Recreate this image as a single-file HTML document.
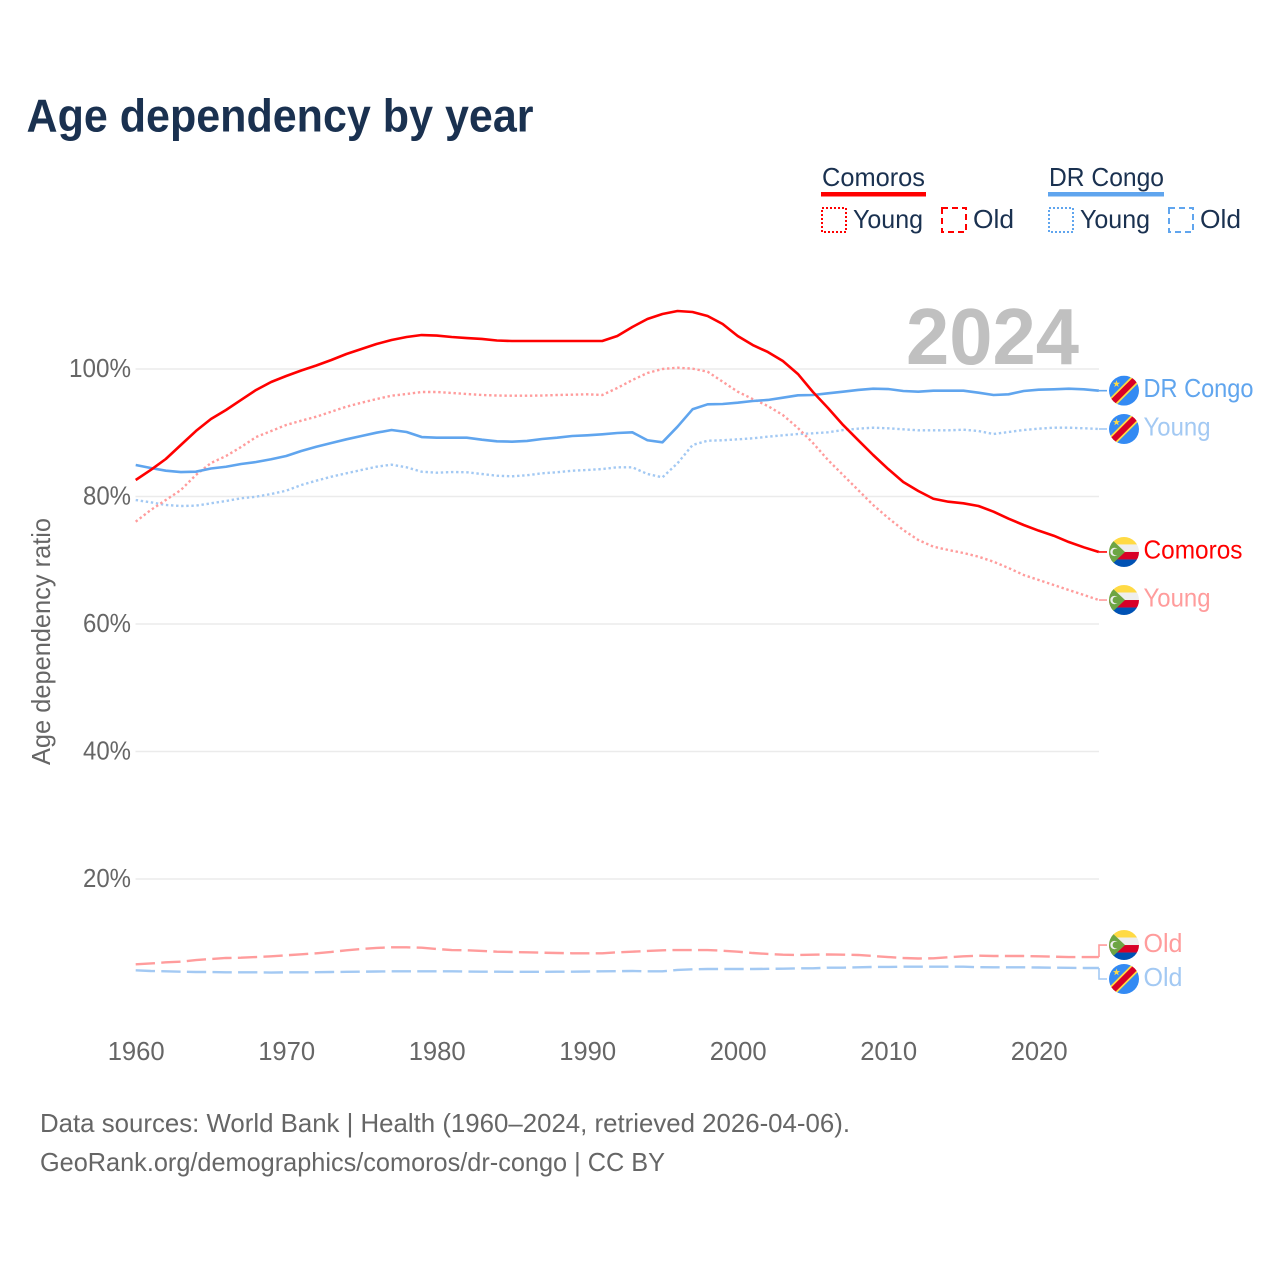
<!DOCTYPE html>
<html lang="en">
<head>
<meta charset="utf-8">
<title>Age dependency by year</title>
<style>
html,body{margin:0;padding:0;background:#fff;}
svg{display:block;font-family:"Liberation Sans",sans-serif;}
</style>
</head>
<body>
<svg id="chart" width="1280" height="1280" viewBox="0 0 1280 1280" xmlns="http://www.w3.org/2000/svg">
  <defs>
    <clipPath id="flag-clip"><circle cx="0" cy="0" r="15"/></clipPath>
    <g id="flag-cd" clip-path="url(#flag-clip)">
      <rect x="-15" y="-15" width="30" height="30" fill="#338af3"/>
      <line x1="-17" y1="17" x2="17" y2="-17" stroke="#ffda44" stroke-width="9.5"/>
      <line x1="-17" y1="17" x2="17" y2="-17" stroke="#d80027" stroke-width="6"/>
      <polygon points="-7.5,-10.5 -6.6,-7.9 -3.9,-7.9 -6.1,-6.3 -5.3,-3.7 -7.5,-5.3 -9.7,-3.7 -8.9,-6.3 -11.1,-7.9 -8.4,-7.9" fill="#ffda44"/>
    </g>
    <g id="flag-km" clip-path="url(#flag-clip)">
      <rect x="-15" y="-15" width="30" height="7.5" fill="#ffda44"/>
      <rect x="-15" y="-7.5" width="30" height="7.5" fill="#eeeeee"/>
      <rect x="-15" y="0" width="30" height="7.5" fill="#d80027"/>
      <rect x="-15" y="7.5" width="30" height="7.5" fill="#0052b4"/>
      <polygon points="-15,-15 1,0 -15,15" fill="#6da544"/>
      <circle cx="-9.5" cy="0" r="4.2" fill="#eeeeee"/>
      <circle cx="-8" cy="0" r="3.4" fill="#6da544"/>
    </g>
  </defs>

  <rect x="0" y="0" width="1280" height="1280" fill="#ffffff"/>

  <text x="26.5" y="131.5" font-size="46" font-weight="700" fill="#1a3150" textLength="507" lengthAdjust="spacingAndGlyphs">Age dependency by year</text>

  <g>
    <text x="822" y="186" font-size="26" fill="#1a3150" textLength="103" lengthAdjust="spacingAndGlyphs">Comoros</text>
    <rect x="821" y="192" width="105" height="4.5" fill="#ff0000"/>
    <rect x="822" y="208" width="24" height="24" fill="none" stroke="#ff0000" stroke-width="2" stroke-dasharray="2 2"/>
    <text x="853" y="228" font-size="26" fill="#1a3150" textLength="70" lengthAdjust="spacingAndGlyphs">Young</text>
    <rect x="942" y="208" width="24" height="24" fill="none" stroke="#ff0000" stroke-width="2" stroke-dasharray="6 4"/>
    <text x="973" y="228" font-size="26" fill="#1a3150" textLength="41" lengthAdjust="spacingAndGlyphs">Old</text>

    <text x="1049" y="186" font-size="26" fill="#1a3150" textLength="115" lengthAdjust="spacingAndGlyphs">DR Congo</text>
    <rect x="1048" y="192" width="116" height="4.5" fill="#60a5ee"/>
    <rect x="1049" y="208" width="24" height="24" fill="none" stroke="#60a5ee" stroke-width="2" stroke-dasharray="2 2"/>
    <text x="1080" y="228" font-size="26" fill="#1a3150" textLength="70" lengthAdjust="spacingAndGlyphs">Young</text>
    <rect x="1169" y="208" width="24" height="24" fill="none" stroke="#60a5ee" stroke-width="2" stroke-dasharray="6 4"/>
    <text x="1200" y="228" font-size="26" fill="#1a3150" textLength="41" lengthAdjust="spacingAndGlyphs">Old</text>
  </g>

  <g id="grid"></g>
  <g id="y-ticks"></g>
  <g id="x-ticks"></g>

  <text x="0" y="0" transform="translate(50,765) rotate(-90)" font-size="26" fill="#666666" textLength="247" lengthAdjust="spacingAndGlyphs">Age dependency ratio</text>

  <text x="906" y="364" font-size="80" font-weight="700" fill="#c0c0c0" textLength="173" lengthAdjust="spacingAndGlyphs">2024</text>

  <g id="series"></g>
  <g id="end-labels"></g>

  <text x="40" y="1132" font-size="26" fill="#666666" textLength="810" lengthAdjust="spacingAndGlyphs">Data sources: World Bank | Health (1960–2024, retrieved 2026-04-06).</text>
  <text x="40" y="1171" font-size="26" fill="#666666" textLength="625" lengthAdjust="spacingAndGlyphs">GeoRank.org/demographics/comoros/dr-congo | CC BY</text>
</svg>

<script>
const firstYear = 1960;
const yTicks = [20, 40, 60, 80, 100];
const xTicks = [1960, 1970, 1980, 1990, 2000, 2010, 2020];

const comorosTotal = [82.59,84.16,85.88,88.08,90.27,92.16,93.57,95.14,96.71,97.96,98.90,99.76,100.55,101.41,102.35,103.14,103.92,104.55,105.02,105.33,105.25,105.02,104.86,104.71,104.47,104.39,104.39,104.39,104.39,104.39,104.39,104.39,105.18,106.59,107.84,108.63,109.10,108.94,108.31,107.06,105.18,103.76,102.67,101.25,99.22,96.39,93.88,91.22,88.86,86.51,84.31,82.27,80.86,79.65,79.18,78.93,78.51,77.62,76.52,75.53,74.64,73.85,72.86,72.03,71.30];
const comorosYoung = [76.05,77.88,79.45,81.02,83.37,85.25,86.35,87.76,89.33,90.27,91.22,91.89,92.52,93.30,94.09,94.71,95.29,95.81,96.08,96.39,96.39,96.24,96.08,95.92,95.84,95.81,95.81,95.84,95.92,95.97,96.03,95.92,97.02,98.27,99.37,100.00,100.20,100.05,99.58,98.01,96.44,95.29,94.20,92.78,90.75,88.39,85.73,83.37,81.02,78.67,76.63,74.75,73.18,72.13,71.61,71.14,70.56,69.77,68.78,67.69,66.90,66.12,65.33,64.55,63.76];
const comorosOld = [6.62,6.75,6.93,7.03,7.29,7.45,7.61,7.65,7.76,7.87,8.03,8.19,8.35,8.55,8.82,9.02,9.18,9.29,9.29,9.22,9.02,8.86,8.82,8.71,8.60,8.55,8.50,8.44,8.39,8.35,8.35,8.35,8.50,8.60,8.71,8.82,8.86,8.86,8.86,8.75,8.60,8.39,8.24,8.13,8.08,8.13,8.16,8.13,8.08,7.92,7.76,7.61,7.53,7.56,7.72,7.87,7.97,7.92,7.92,7.92,7.87,7.81,7.76,7.76,7.76];
const congoTotal = [84.94,84.47,84.05,83.84,83.89,84.39,84.67,85.10,85.41,85.84,86.35,87.14,87.81,88.39,88.97,89.49,90.01,90.43,90.12,89.33,89.22,89.22,89.22,88.91,88.66,88.60,88.71,89.02,89.22,89.49,89.60,89.76,89.96,90.07,88.82,88.50,90.95,93.68,94.46,94.51,94.71,94.98,95.14,95.50,95.87,95.92,96.19,96.44,96.71,96.91,96.86,96.55,96.44,96.60,96.60,96.60,96.28,95.92,96.03,96.55,96.75,96.82,96.91,96.82,96.60];
const congoYoung = [79.45,79.09,78.67,78.51,78.56,78.93,79.29,79.72,79.97,80.39,80.91,81.80,82.48,83.11,83.64,84.16,84.67,84.99,84.58,83.89,83.73,83.84,83.80,83.53,83.26,83.17,83.33,83.64,83.80,84.05,84.16,84.31,84.58,84.58,83.53,83.01,85.21,88.08,88.75,88.82,88.97,89.13,89.38,89.60,89.80,89.91,90.07,90.43,90.64,90.79,90.70,90.54,90.38,90.38,90.38,90.48,90.27,89.80,90.12,90.43,90.64,90.79,90.79,90.70,90.59];
const congoOld = [5.68,5.57,5.52,5.46,5.41,5.41,5.36,5.36,5.36,5.33,5.36,5.36,5.38,5.41,5.44,5.46,5.49,5.52,5.52,5.52,5.52,5.52,5.49,5.46,5.46,5.44,5.44,5.44,5.46,5.46,5.49,5.52,5.54,5.57,5.52,5.52,5.73,5.84,5.88,5.88,5.88,5.88,5.91,5.93,5.99,5.99,6.09,6.09,6.15,6.20,6.20,6.24,6.24,6.24,6.24,6.24,6.16,6.15,6.15,6.15,6.12,6.09,6.07,6.04,6.04];

const SVG_NS = 'http://www.w3.org/2000/svg';
const xScale = function (year) { return 135.7 + (year - 1960) * 15.05; };
const yScale = function (value) { return 1006.5 - value * 6.375; };

function make(tag, attrs, parent) {
  const el = document.createElementNS(SVG_NS, tag);
  for (const key in attrs) { el.setAttribute(key, attrs[key]); }
  parent.appendChild(el);
  return el;
}

const gridGroup = document.getElementById('grid');
const yTickGroup = document.getElementById('y-ticks');
yTicks.forEach(function (tick) {
  const line = make('line', { x1: 135.5, x2: 1099, y1: yScale(tick), y2: yScale(tick), stroke: '#ebebeb', 'stroke-width': 1.6 }, gridGroup);
  
  
  const label = make('text', { x: 131, y: yScale(tick) + 8, 'text-anchor': 'end', 'font-size': 26, fill: '#666666', textLength: tick === 100 ? 62 : 48, lengthAdjust: 'spacingAndGlyphs' }, yTickGroup);
  
  
  label.textContent = tick + '%';
});

const xTickGroup = document.getElementById('x-ticks');
xTicks.forEach(function (tick) {
  const label = make('text', { x: xScale(tick) - 28, y: 1060, 'font-size': 26, fill: '#666666', textLength: 57, lengthAdjust: 'spacingAndGlyphs' }, xTickGroup);
  
  
  label.textContent = String(tick);
});

function linePoints(values) {
  return values.map(function (value, i) {
    return xScale(firstYear + i).toFixed(2) + ',' + yScale(value).toFixed(2);
  }).join(' ');
}

const seriesGroup = document.getElementById('series');
function drawSeries(values, color, width, dash, name) {
  const attrs = { points: linePoints(values), fill: 'none', stroke: color, 'stroke-width': width, 'stroke-linejoin': 'round' };
  if (dash) { attrs['stroke-dasharray'] = dash; }
  const poly = make('polyline', attrs, seriesGroup);
  
  
}

const RED = '#ff0000';
const RED_LIGHT = '#ff9c9c';
const BLUE = '#60a5ee';
const BLUE_LIGHT = '#a3c9f3';
const DOT = '2.4 2.7';
const DASH = '19.3 6.3';

drawSeries(congoOld, BLUE_LIGHT, 2.4, DASH, 'line-dr-congo-old');
drawSeries(comorosOld, RED_LIGHT, 2.4, DASH, 'line-comoros-old');
drawSeries(congoYoung, BLUE_LIGHT, 2.4, DOT, 'line-dr-congo-young');
drawSeries(comorosYoung, RED_LIGHT, 2.4, DOT, 'line-comoros-young');
drawSeries(congoTotal, BLUE, 2.6, '', 'line-dr-congo-total');
drawSeries(comorosTotal, RED, 2.6, '', 'line-comoros-total');

const endGroup = document.getElementById('end-labels');
function drawEnd(values, flag, text, width, color, lineColor, offset, labelNudge, name) {
  const lastY = yScale(values[values.length - 1]);
  const labelY = lastY + offset;
  const leader = make('polyline', { points: '1099,' + lastY + ' 1099,' + labelY + ' 1107,' + labelY, fill: 'none', stroke: lineColor, 'stroke-width': 1.6 }, endGroup);
  
  
  const icon = make('use', { href: '#' + flag, transform: 'translate(1124,' + labelY + ')' }, endGroup);
  
  
  const label = make('text', { x: 1143.5, y: labelY + labelNudge, 'font-size': 26, fill: color, textLength: width, lengthAdjust: 'spacingAndGlyphs' }, endGroup);
  
  
  label.textContent = text;
}

drawEnd(congoTotal, 'flag-cd', 'DR Congo', 110, BLUE, BLUE, 0, 6.5, 'end-dr-congo-total');
drawEnd(congoYoung, 'flag-cd', 'Young', 67, BLUE_LIGHT, BLUE_LIGHT, 0, 6.5, 'end-dr-congo-young');
drawEnd(comorosTotal, 'flag-km', 'Comoros', 99, RED, RED, 0, 6.5, 'end-comoros-total');
drawEnd(comorosYoung, 'flag-km', 'Young', 67, RED_LIGHT, RED_LIGHT, 0, 6.5, 'end-comoros-young');
drawEnd(comorosOld, 'flag-km', 'Old', 39, RED_LIGHT, RED_LIGHT, -12, 7, 'end-comoros-old');
drawEnd(congoOld, 'flag-cd', 'Old', 39, BLUE_LIGHT, BLUE_LIGHT, 11, 7, 'end-dr-congo-old');
</script>
</body>
</html>
